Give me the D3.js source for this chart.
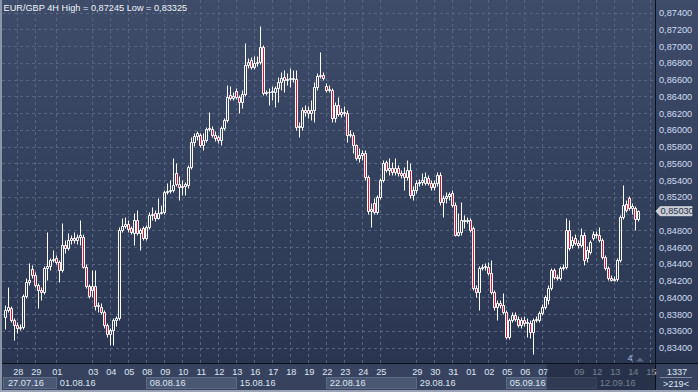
<!DOCTYPE html>
<html>
<head>
<meta charset="utf-8">
<script src="https://cdn.jsdelivr.net/npm/d3@7"></script>
<style>
html, body { margin: 0; padding: 0; background: #2a3650; overflow: hidden; }
svg { display: block; font-family: "Liberation Sans", Arial, sans-serif; }
</style>
</head>
<body>
<svg id="chart" width="698" height="392"></svg>
<script>
// EUR/GBP 4H candles (one entry per bar)
var opens = [
 .8377,.8385,.8387,.8373,.8367,.8364,.8365,.8402,.8419,.8434,
 .8427,.8415,.8409,.8407,.8435,.8437,.8445,.8447,.8442,.8433,
 .8463,.8459,.8469,.8471,.8469,.8472,.8472,.8436,.8414,.8409,
 .8414,.8390,.8389,.8383,.8367,.8356,.8361,.8373,.8376,.8481,
 .8485,.8488,.8483,.8477,.8493,.8477,.8483,.8471,.8484,.8499,
 .8501,.8495,.8501,.8502,.8526,.8527,.8528,.8549,.8536,.8532,
 .8533,.8534,.8556,.8586,.8593,.8594,.8582,.8588,.8601,.8601,
 .8594,.8592,.8588,.8602,.8612,.8642,.8638,.8647,.8639,.8633,
 .8643,.8678,.8684,.8675,.8680,.8681,.8699,.8644,.8645,.8645,
 .8645,.8650,.8657,.8663,.8660,.8661,.8662,.8661,.8604,.8604,
 .8624,.8624,.8620,.8624,.8651,.8664,.8666,.8652,.8648,.8648,
 .8614,.8630,.8619,.8621,.8620,.8594,.8594,.8582,.8566,.8570,
 .8572,.8544,.8503,.8513,.8502,.8520,.8540,.8562,.8552,.8555,
 .8550,.8555,.8549,.8549,.8544,.8552,.8522,.8528,.8537,.8538,
 .8537,.8543,.8537,.8532,.8537,.8546,.8514,.8519,.8521,.8525,
 .8510,.8475,.8478,.8493,.8491,.8493,.8483,.8411,.8407,.8435,
 .8436,.8436,.8429,.8407,.8389,.8393,.8391,.8383,.8353,.8373,
 .8379,.8374,.8367,.8373,.8369,.8369,.8359,.8373,.8373,.8381,
 .8389,.8397,.8411,.8433,.8424,.8423,.8435,.8436,.8481,.8463,
 .8471,.8465,.8463,.8475,.8447,.8454,.8471,.8476,.8475,.8469,
 .8448,.8435,.8423,.8421,.8422,.8445,.8496,.8512,.8519,.8507,
 .8507,.8494
];
var highs = [
 .8391,.8412,.8390,.8376,.8371,.8368,.8404,.8423,.8441,.8439,
 .8430,.8417,.8412,.8437,.8478,.8447,.8457,.8451,.8445,.8489,
 .8469,.8477,.8475,.8478,.8476,.8493,.8476,.8440,.8416,.8433,
 .8433,.8395,.8393,.8385,.8369,.8364,.8376,.8378,.8484,.8495,
 .8496,.8493,.8485,.8501,.8505,.8483,.8485,.8487,.8502,.8508,
 .8505,.8519,.8510,.8528,.8537,.8540,.8566,.8560,.8545,.8540,
 .8538,.8558,.8592,.8596,.8599,.8596,.8596,.8604,.8621,.8605,
 .8599,.8594,.8605,.8614,.8654,.8652,.8645,.8650,.8642,.8648,
 .8704,.8686,.8687,.8688,.8688,.87245,.8701,.8648,.8650,.8652,
 .8652,.8663,.8669,.8672,.8668,.8674,.8672,.8672,.8610,.8627,
 .8630,.8629,.8636,.8657,.8668,.8693,.8669,.8656,.8654,.8650,
 .8633,.8639,.8626,.8629,.8624,.8600,.8598,.8583,.8578,.8576,
 .8576,.8546,.8513,.8519,.8522,.8543,.8564,.8564,.8566,.8562,
 .8566,.8558,.8552,.8556,.8564,.8561,.8533,.8540,.8541,.8549,
 .8550,.8546,.8540,.8540,.8550,.8550,.8522,.8526,.8526,.8528,
 .8514,.8501,.8514,.8498,.8496,.8495,.8485,.8415,.8437,.8440,
 .8441,.8442,.8445,.8409,.8397,.8397,.8405,.8385,.8376,.8383,
 .8383,.8378,.8377,.8378,.8376,.8373,.8376,.8378,.8384,.8392,
 .8403,.8415,.8435,.8435,.8428,.8437,.8440,.8495,.8493,.8473,
 .8476,.8469,.8483,.8478,.8461,.8469,.8479,.8479,.8484,.8471,
 .8451,.8437,.8427,.8426,.8447,.8498,.8534,.8516,.8521,.8513,
 .8509,.8505
];
var lows = [
 .8362,.8383,.8371,.8349,.8358,.8361,.8362,.8399,.8415,.8423,
 .8412,.8387,.8397,.8404,.8421,.8433,.8442,.8440,.8419,.8430,
 .8453,.8457,.8464,.8465,.8464,.8463,.8435,.8411,.8399,.8401,
 .8385,.8383,.8380,.8364,.8353,.8343,.8343,.8366,.8373,.8478,
 .8483,.8478,.8476,.8463,.8475,.8457,.8469,.8469,.8482,.8493,
 .8491,.8494,.8500,.8500,.8524,.8525,.8526,.8533,.8516,.8522,
 .8522,.8531,.8553,.8581,.8588,.8580,.8576,.8586,.8599,.8592,
 .8587,.8584,.8582,.8600,.8609,.8636,.8636,.8637,.8620,.8626,
 .8641,.8674,.8673,.8673,.8676,.8679,.8642,.8642,.8630,.8636,
 .8627,.8633,.8648,.8645,.8654,.8651,.8657,.8600,.8592,.8600,
 .8617,.8614,.8612,.8609,.8648,.8662,.8660,.8645,.8645,.8609,
 .8609,.8617,.8615,.8617,.8586,.8592,.8573,.8564,.8562,.8564,
 .8540,.8500,.8484,.8500,.8500,.8518,.8538,.8550,.8546,.8546,
 .8546,.8545,.8543,.8528,.8540,.8519,.8516,.8525,.8533,.8534,
 .8534,.8534,.8528,.8528,.8533,.8510,.8496,.8513,.8516,.8508,
 .8473,.8473,.8475,.8483,.8489,.8478,.8409,.8401,.8385,.8433,
 .8433,.8427,.8404,.8385,.8373,.8387,.8380,.8350,.8350,.8371,
 .8372,.8365,.8364,.8366,.8353,.8352,.83325,.8371,.8371,.8379,
 .8386,.8392,.8409,.8422,.8421,.8421,.8433,.8434,.8457,.8459,
 .8463,.8459,.8460,.8439,.8442,.8452,.8469,.8471,.8466,.8446,
 .8433,.8421,.8420,.8420,.8420,.8442,.8494,.8502,.8505,.8500,
 .8481,.8491
];
var closes = [
 .8385,.8389,.8373,.8367,.8364,.8365,.8402,.8419,.8421,.8427,
 .8415,.8409,.8407,.8435,.8437,.8445,.8446,.8442,.8433,.8463,
 .8459,.8469,.8471,.8469,.8472,.8474,.8436,.8414,.8402,.8414,
 .8390,.8391,.8383,.8367,.8356,.8361,.8373,.8376,.8481,.8485,
 .8488,.8482,.8478,.8493,.8477,.8481,.8471,.8484,.8499,.8500,
 .8495,.8501,.8502,.8526,.8527,.8528,.8534,.8536,.8532,.8533,
 .8536,.8556,.8586,.8593,.8596,.8582,.8588,.8601,.8602,.8594,
 .8590,.8588,.8602,.8612,.8639,.8638,.8641,.8639,.8633,.8643,
 .8678,.8681,.8675,.8680,.8681,.8699,.8644,.8645,.8645,.8646,
 .8650,.8657,.8662,.8660,.8661,.8662,.8661,.8604,.8605,.8624,
 .8622,.8620,.8624,.8651,.8664,.8666,.8662,.8648,.8649,.8614,
 .8630,.8619,.8621,.8620,.8594,.8595,.8582,.8566,.8570,.8572,
 .8544,.8503,.8506,.8502,.8520,.8540,.8561,.8552,.8555,.8550,
 .8555,.8549,.8546,.8544,.8552,.8522,.8528,.8537,.8538,.8540,
 .8544,.8537,.8532,.8537,.8546,.8514,.8519,.8521,.8524,.8510,
 .8475,.8478,.8493,.8491,.8493,.8481,.8411,.8407,.8435,.8436,
 .8437,.8429,.8407,.8389,.8393,.8391,.8383,.8353,.8373,.8379,
 .8374,.8367,.8373,.8369,.8371,.8359,.8373,.8374,.8381,.8389,
 .8401,.8411,.8433,.8424,.8423,.8435,.8436,.8481,.8459,.8469,
 .8465,.8463,.8475,.8445,.8457,.8466,.8476,.8475,.8469,.8448,
 .8435,.8423,.8421,.8422,.8445,.8496,.8510,.8505,.8507,.8509,
 .8494,.8503
];

var priceTicks = [0.834,0.836,0.838,0.840,0.842,0.844,0.846,0.848,0.850,0.852,
  0.854,0.856,0.858,0.860,0.862,0.864,0.866,0.868,0.870,0.872,0.874];

// day labels and the bar index they sit on
var dayLabels = ["28","29","01","03","04","05","08","09","10","11","12","13","16","17","18","19",
  "22","23","24","25","29","30","31","01","02","05","06","07","09","12","13","14","15"];
var dayBars = [4,10,17,29,35,41,47,53,59,65,71,77,83,89,95,101,
  107,113,119,125,137,143,149,155,161,167,173,179,191,197,203,209,215];

var weekLabels = ["27.07.16","01.08.16","08.08.16","15.08.16","22.08.16","29.08.16","05.09.16","12.09.16"];
var weekBars = [0,17,47,77,107,137,167,197];

var symbol = "EUR/GBP 4H";
var lastPrice = 0.85030;
var futureFrom = 180.5;   // axis shading starts here (bar index)
var barCount = "1337";
var shownBars = ">219<";

var svg = d3.select("#chart");
var W = 698, H = 392;
var plotRight = 655, plotBottom = 363;

var x = d3.scaleLinear().domain([0, 215]).range([5.3, 650.3]);
var y = d3.scaleLinear().domain([0.834, 0.874]).range([347.7, 12.7]);
var fmt = function(v) { return d3.format(".5f")(v).replace(".", ","); };

var defs = svg.append("defs");
var grad = defs.append("linearGradient").attr("id", "bg")
  .attr("gradientUnits", "userSpaceOnUse")
  .attr("x1", 0).attr("y1", 0).attr("x2", 0).attr("y2", plotBottom);
grad.append("stop").attr("offset", 0).attr("stop-color", "#3e4c6a");
grad.append("stop").attr("offset", 1).attr("stop-color", "#2a3651");

svg.append("rect").attr("width", W).attr("height", plotBottom).attr("fill", "url(#bg)");
svg.append("rect").attr("y", plotBottom).attr("width", W).attr("height", H - plotBottom).attr("fill", "#36425e");

// grid
var grid = svg.append("g").attr("stroke", "#56647f").attr("stroke-dasharray", "3,3");
grid.selectAll("line.h").data(priceTicks).enter().append("line")
  .attr("x1", 2).attr("x2", plotRight)
  .attr("y1", d => Math.round(y(d)) + 0.5).attr("y2", d => Math.round(y(d)) + 0.5);
grid.selectAll("line.v").data(dayBars).enter().append("line")
  .attr("x1", d => Math.floor(x(d)) + 0.5).attr("x2", d => Math.floor(x(d)) + 0.5)
  .attr("y1", 0).attr("y2", plotBottom);

// candles
var bars = d3.range(closes.length).map(function(i) {
  return { i: i, o: opens[i], h: highs[i], l: lows[i], c: closes[i] };
});
var cg = svg.append("g");
bars.forEach(function(d) {
  var cx = Math.floor(x(d.i)) + 0.5;
  var yt = Math.round(y(Math.max(d.o, d.c))) + 0.5;
  var yb = Math.round(y(Math.min(d.o, d.c))) + 0.5;
  var yh = Math.round(y(d.h)) + 0.5, yl = Math.round(y(d.l)) + 0.5;
  if (yh < yt) cg.append("line").attr("x1", cx).attr("x2", cx).attr("y1", yh).attr("y2", yt).attr("stroke", "#fff");
  if (yl > yb) cg.append("line").attr("x1", cx).attr("x2", cx).attr("y1", yb).attr("y2", yl).attr("stroke", "#fff");
  cg.append("path")
    .attr("d", "M" + (cx - 1) + "," + yt + "H" + (cx + 1) + "V" + yb + "H" + (cx - 1) + "Z")
    .attr("fill", d.c < d.o ? "#e3102e" : "none")
    .attr("stroke", "#fff");
});

// frame lines
svg.append("line").attr("x1", plotRight + 0.5).attr("x2", plotRight + 0.5).attr("y1", 0).attr("y2", H)
  .attr("stroke", "#0c1018");
svg.append("line").attr("x1", 0).attr("x2", W).attr("y1", plotBottom + 0.5).attr("y2", plotBottom + 0.5)
  .attr("stroke", "#0c1018");

// price axis labels (the one under the last-price marker is hidden by it)
var yp = y(lastPrice);
svg.append("g").selectAll("text")
  .data(priceTicks.filter(d => Math.abs(y(d) - yp) > 9)).enter().append("text")
  .attr("x", 659).attr("y", d => y(d) + 3.3)
  .attr("fill", "#cfdcf2").style("font-size", "9.2px")
  .text(fmt);

// last price marker
svg.append("path")
  .attr("d", "M656," + yp + "L660," + (yp - 4.5) + "H692V" + (yp + 4.5) + "H660Z")
  .attr("fill", "#c8cdd6").attr("stroke", "#e4e7ee").attr("stroke-width", 0.8);
svg.append("text").attr("x", 660.5).attr("y", yp + 3.3)
  .attr("fill", "#26304a").style("font-size", "9.2px").text(fmt(lastPrice));

// time axis: week boxes
var weekEnds = weekBars.slice(1).concat([215]);
var wg = svg.append("g");
weekBars.forEach(function(b, k) {
  var x0 = k === 0 ? 3 : x(b), x1 = x(weekEnds[k]);
  if (k % 2 === 0) {
    wg.append("rect").attr("x", Math.round(x0) + 0.5).attr("y", 377.5)
      .attr("width", Math.round(x1 - x0)).attr("height", 11)
      .attr("fill", "#4a5773").attr("stroke", "#5d6a85");
  }
  wg.append("text").attr("x", (k === 0 ? 8 : x(b) + 3.5)).attr("y", 386)
    .attr("fill", "#dfe6f2").style("font-size", "9.2px").text(weekLabels[k]);
});

svg.append("g").selectAll("text").data(dayLabels).enter().append("text")
  .attr("x", (d, k) => x(dayBars[k]) + 1).attr("y", 375)
  .attr("text-anchor", "middle")
  .attr("fill", "#dfe6f2").style("font-size", "9.2px")
  .text(d => d);

// shaded part of the time axis
svg.append("rect").attr("x", x(futureFrom)).attr("y", plotBottom + 1)
  .attr("width", plotRight - x(futureFrom)).attr("height", H - plotBottom - 3)
  .attr("fill", "#1c2438").attr("opacity", 0.55);

// bottom-right box
svg.append("text").attr("x", 677).attr("y", 374.5).attr("text-anchor", "middle")
  .attr("fill", "#dfe6f2").style("font-size", "9.2px").text(barCount);
svg.append("line").attr("x1", 660).attr("x2", 692).attr("y1", 377.5).attr("y2", 377.5)
  .attr("stroke", "#7c88a0");
svg.append("text").attr("x", 676).attr("y", 386.5).attr("text-anchor", "middle")
  .attr("fill", "#dfe6f2").style("font-size", "9.2px").text(shownBars);

// small marker above the time axis
svg.append("text").attr("x", 630).attr("y", 361).attr("text-anchor", "middle")
  .attr("fill", "#a8bde0").style("font-size", "9.2px").text("4");
svg.append("path").attr("d", "M636,361.5L640,357.5L644,361.5Z").attr("fill", "#5c6883");

// outer borders
svg.append("rect").attr("x", 0).attr("y", 0).attr("width", 2).attr("height", H).attr("fill", "#8b95a8");
svg.append("rect").attr("x", 0).attr("y", H - 2).attr("width", W).attr("height", 2).attr("fill", "#9ba4b6");

// title
var hi = d3.max(highs), lo = d3.min(lows);
svg.append("text").attr("x", 3.5).attr("y", 11)
  .attr("fill", "#eef2f8").style("font-size", "9.2px")
  .text(symbol + " High = " + fmt(hi) + " Low = " + fmt(lo));
</script>
</body>
</html>
